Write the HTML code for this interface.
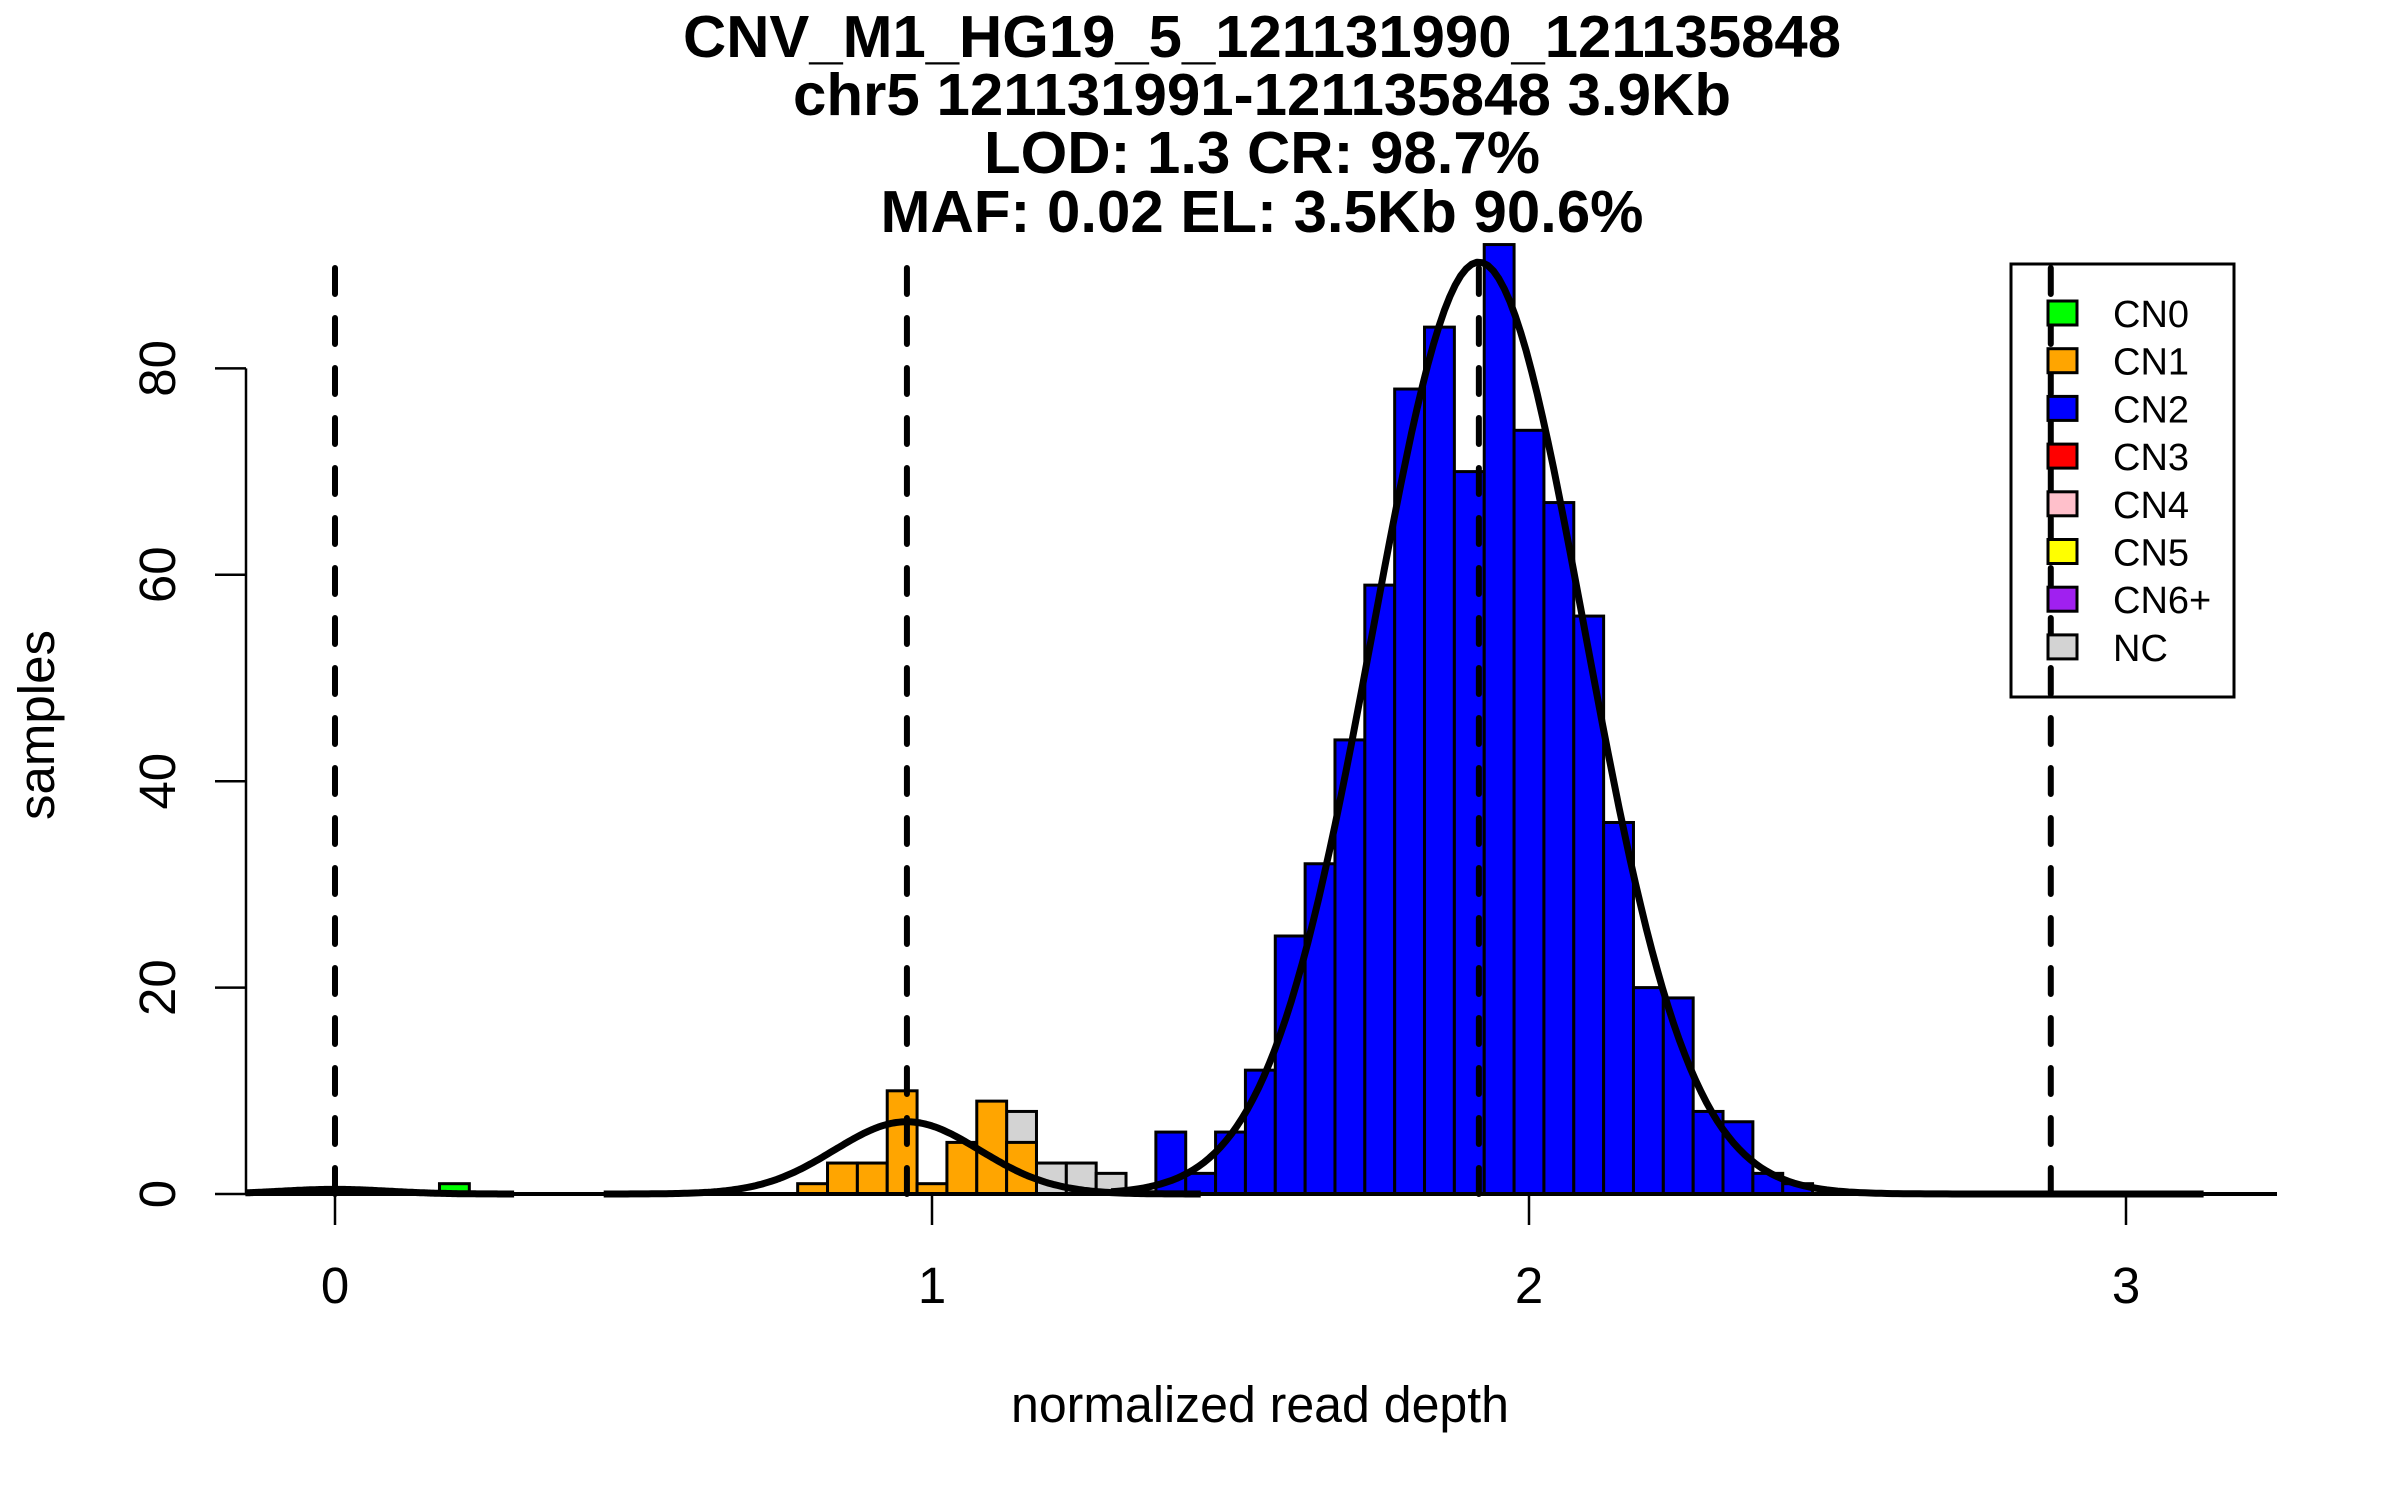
<!DOCTYPE html>
<html><head><meta charset="utf-8"><style>
html,body{margin:0;padding:0;background:#fff;}
svg{display:block;font-family:"Liberation Sans",Arial,sans-serif;}
</style></head><body>
<svg id="chart" width="2400" height="1500" viewBox="0 0 2400 1500" xmlns="http://www.w3.org/2000/svg">
<g font-weight="bold" font-size="59" text-anchor="middle">
<text x="1262" y="57" textLength="1158" lengthAdjust="spacingAndGlyphs">CNV_M1_HG19_5_121131990_121135848</text>
<text x="1262" y="115" textLength="938" lengthAdjust="spacingAndGlyphs">chr5 121131991-121135848 3.9Kb</text>
<text x="1262" y="173" textLength="556" lengthAdjust="spacingAndGlyphs">LOD: 1.3 CR: 98.7%</text>
<text x="1262" y="232" textLength="763" lengthAdjust="spacingAndGlyphs">MAF: 0.02 EL: 3.5Kb 90.6%</text>
</g>
<text x="1260" y="1422" font-size="51" text-anchor="middle" textLength="498" lengthAdjust="spacingAndGlyphs">normalized read depth</text>
<text transform="translate(54,725) rotate(-90)" font-size="51" text-anchor="middle">samples</text>
<g id="plot"></g>
</svg>
<script>
// ---- data ----
const binWidth = 0.05;
const cn0Starts = [0.175];
const cn0Counts = [1];
const cn1Starts = [0.775, 0.825, 0.875, 0.925, 0.975, 1.025, 1.075, 1.125];
const cn1Counts = [1, 3, 3, 10, 1, 5, 9, 5];
const ncStarts = [1.125, 1.175, 1.225, 1.275];
const ncCounts = [8, 3, 3, 2];
const cn2Starts = [1.375,1.425,1.475,1.525,1.575,1.625,1.675,1.725,1.775,1.825,1.875,1.925,1.975,2.025,2.075,2.125,2.175,2.225,2.275,2.325,2.375,2.425];
const cn2Counts = [6,2,6,12,25,32,44,59,78,84,70,92,74,67,56,36,20,19,8,7,2,1];
const fitMeans = [0, 0.958, 1.916];
const fitSds = [0.09, 0.122, 0.177];
const fitPeaks = [0.45, 7, 90.3];
const fitFrom = [-0.15, 0.45, 1.3];
const fitTo = [0.3, 1.45, 3.13];
const cnMarkers = [0, 0.958, 1.916, 2.874];
const xTicks = [0, 1, 2, 3];
const yTicks = [0, 20, 40, 60, 80];
const legendLabels = ["CN0","CN1","CN2","CN3","CN4","CN5","CN6+","NC"];
const legendColors = ["#00ff00","#ffa500","#0000ff","#ff0000","#ffc0cb","#ffff00","#a020f0","#d3d3d3"];

// ---- scales ----
const X0 = 335, XU = 597, Y0 = 1194, YU = 10.32;
const sx = v => X0 + v * XU;
const sy = v => Y0 - v * YU;
const NS = "http://www.w3.org/2000/svg";
const plot = document.getElementById('plot');
function mk(tag, attrs, parent) {
  const e = document.createElementNS(NS, tag);
  for (const k in attrs) e.setAttribute(k, attrs[k]);
  (parent || plot).appendChild(e);
  return e;
}

// y axis
const yAxis = mk('g', {});


mk('line', {x1: 246, x2: 246, y1: sy(yTicks[yTicks.length-1]), y2: sy(0), stroke: '#000', 'stroke-width': 2.5}, yAxis);
yTicks.forEach(t => {
  mk('line', {x1: 215, x2: 246, y1: sy(t), y2: sy(t), stroke: '#000', 'stroke-width': 2.5}, yAxis);
  const tx = mk('text', {transform: `translate(175,${sy(t)}) rotate(-90)`, 'font-size': 51, 'text-anchor': 'middle'}, yAxis);
  tx.textContent = t;
  
  
});

// x axis ticks
const xAxis = mk('g', {});


xTicks.forEach(t => {
  mk('line', {x1: sx(t), x2: sx(t), y1: Y0, y2: 1225, stroke: '#000', 'stroke-width': 2.5}, xAxis);
  const tx = mk('text', {x: sx(t), y: 1303, 'font-size': 51, 'text-anchor': 'middle'}, xAxis);
  tx.textContent = t;
  
  
});

// bars
function bars(starts, counts, color, name) {
  const g = mk('g', {});
  
  
  starts.forEach((s, i) => {
    const r = mk('rect', {x: sx(s), y: sy(counts[i]), width: sx(s + binWidth) - sx(s), height: sy(0) - sy(counts[i]), fill: color, stroke: '#000', 'stroke-width': 3}, g);
    
    
  });
}
bars(ncStarts, ncCounts, '#d3d3d3', 'nc');
bars(cn0Starts, cn0Counts, '#00ff00', 'cn0');
bars(cn1Starts, cn1Counts, '#ffa500', 'cn1');
bars(cn2Starts, cn2Counts, '#0000ff', 'cn2');

// baseline
const base = mk('line', {x1: 249, x2: 2277, y1: Y0, y2: Y0, stroke: '#000', 'stroke-width': 4});



// fitted curves
fitMeans.forEach((m, i) => {
  let d = '';
  const n = 200;
  for (let k = 0; k <= n; k++) {
    const v = fitFrom[i] + (fitTo[i] - fitFrom[i]) * k / n;
    const y = fitPeaks[i] * Math.exp(-((v - m) ** 2) / (2 * fitSds[i] ** 2));
    d += (k ? 'L' : 'M') + sx(v).toFixed(1) + ',' + sy(y).toFixed(1);
  }
  const p = mk('path', {d: d, fill: 'none', stroke: '#000', 'stroke-width': 7, 'stroke-linejoin': 'round'});
  
  
});

// dashed markers
cnMarkers.forEach(m => {
  const l = mk('line', {x1: sx(m), x2: sx(m), y1: 268, y2: Y0, stroke: '#000', 'stroke-width': 6, 'stroke-dasharray': '26 24', 'stroke-linecap': 'round'});
  
  
});

// legend
const lg = mk('g', {});


mk('rect', {x: 2011, y: 264, width: 223, height: 433, fill: 'none', stroke: '#000', 'stroke-width': 3}, lg);
legendLabels.forEach((lab, i) => {
  const cy = 313 + 47.7 * i;
  const e = mk('g', {}, lg);
  
  
  mk('rect', {x: 2048, y: cy - 12, width: 29, height: 24, fill: legendColors[i], stroke: '#000', 'stroke-width': 3}, e);
  const t = mk('text', {x: 2113, y: cy + 14, 'font-size': 38}, e);
  t.textContent = lab;
});
</script>
</body></html>
